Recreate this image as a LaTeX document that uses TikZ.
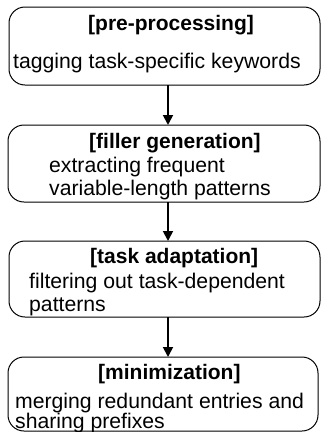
\documentclass[tikz,border=0pt]{standalone}
\usepackage{fontspec}
\setmainfont{Liberation Sans}
\usetikzlibrary{arrows.meta}
\begin{document}
\begin{tikzpicture}[x=1pt,y=-1pt,
  stagebox/.style={draw=black, line width=1pt, rounded corners=16pt, inner sep=0pt, outer sep=0pt, anchor=north west},
  titletext/.style={inner sep=0pt, anchor=base west, font=\fontsize{21}{22}\selectfont\bfseries},
  bodytext/.style={inner sep=0pt, anchor=base west, font=\fontsize{21.2}{22}\selectfont},
  flow/.style={line width=1.8pt, -{Triangle[length=10pt,width=10pt]}}]
\useasboundingbox (0,0) rectangle (321,432);
% boxes
\node[stagebox, minimum width=311pt, minimum height=78pt] (b1) at (9,7) {};
\node[stagebox, minimum width=312pt, minimum height=77pt] (b2) at (8,125) {};
\node[stagebox, minimum width=311pt, minimum height=76pt] (b3) at (9,241) {};
\node[stagebox, minimum width=310pt, minimum height=74pt] (b4) at (8,357) {};
% texts
\node[titletext] (t1) at (88,30) {[pre-processing]};
\node[bodytext] (d1) at (13,68) {tagging task-specific keywords};
\node[titletext] (t2) at (89,148) {[filler generation]};
\node[bodytext] (d2a) at (49,172) {extracting frequent};
\node[bodytext] (d2b) at (49,195) {variable-length patterns};
\node[titletext] (t3) at (90,263) {[task adaptation]};
\node[bodytext] (d3a) at (29,288) {filtering out task-dependent};
\node[bodytext] (d3b) at (29,311) {patterns};
\node[titletext] (t4) at (98,379) {[minimization]};
\node[bodytext] (d4a) at (15,408) {merging redundant entries and};
\node[bodytext] (d4b) at (15,428) {sharing prefixes};
% arrows
\coordinate (ax) at (168,0);
\draw[flow] (b1.south -| ax) -- (b2.north -| ax);
\draw[flow] (b2.south -| ax) -- (b3.north -| ax);
\draw[flow] (b3.south -| ax) -- (b4.north -| ax);
\end{tikzpicture}
\end{document}
